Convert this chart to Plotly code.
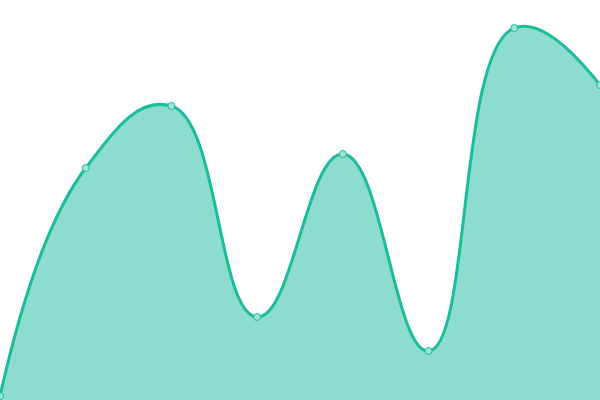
import plotly.graph_objects as go

x = [0, 1, 2, 3, 4, 5, 6, 7]
values = [1, 58, 73.5, 20.75, 61.5, 12.25, 93, 78.75]

fig = go.Figure()
fig.add_trace(go.Scatter(x=x,
                         y=values,
                         mode="lines+markers",
                         fill="tozeroy",
                         fillcolor="rgba(26,188,156,0.5)",
                         line=dict(color="#1abc9c", width=3, shape="spline", smoothing=1.3),
                         marker=dict(size=7, color="#9fe6d7", line=dict(color="#1abc9c", width=1)),
                         cliponaxis=False))

fig.update_layout(width=600, height=400,
                  margin=dict(l=0, r=0, t=0, b=0),
                  paper_bgcolor="white", plot_bgcolor="white",
                  showlegend=False)
fig.update_xaxes(range=[0, 7], visible=False)
fig.update_yaxes(range=[0, 100], visible=False)

# drop the default body margin so the plot fills the window
fig.write_html("out.html", config={"displayModeBar": False},
               post_script="document.body.style.margin='0';")
